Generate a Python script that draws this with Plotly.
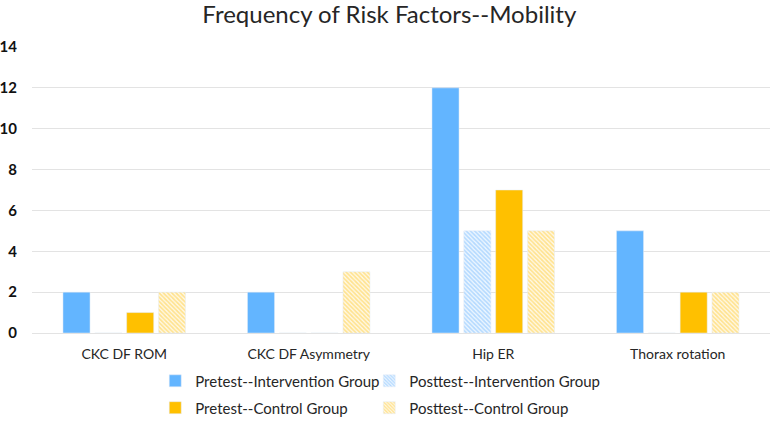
import plotly.graph_objects as go

categories = ["CKC DF ROM", "CKC DF Asymmetry", "Hip ER", "Thorax rotation"]
pre_intervention = [2, 2, 12, 5]
post_intervention = [0, 0, 5, 0]
pre_control = [1, 0, 7, 2]
post_control = [2, 3, 5, 2]
y_ticks = [0, 2, 4, 6, 8, 10, 12, 14]

FONT = "Lato"
fig = go.Figure()
fig.add_trace(go.Bar(x=categories, y=pre_intervention, name="Pretest--Intervention Group",
                     marker=dict(color="#63B5FF"), legend="legend"))
fig.add_trace(go.Bar(x=categories, y=post_intervention, name="Posttest--Intervention Group",
                     marker=dict(color="#EEF7FF", pattern=dict(shape="\\", fgcolor="#78BCFF", size=3, solidity=0.55)),
                     legend="legend2"))
fig.add_trace(go.Bar(x=categories, y=pre_control, name="Pretest--Control Group",
                     marker=dict(color="#FFC000"), legend="legend3"))
fig.add_trace(go.Bar(x=categories, y=post_control, name="Posttest--Control Group",
                     marker=dict(color="#FFF8E6", pattern=dict(shape="\\", fgcolor="#FFCC33", size=3, solidity=0.55)),
                     legend="legend4"))

legend_common = dict(orientation="v", xanchor="left", yanchor="middle", itemwidth=30,
                     font=dict(family=FONT, size=15, color="#262626"),
                     bgcolor="rgba(0,0,0,0)")

col1, col2 = 0.167, 0.457
row1, row2 = -0.168, -0.262

fig.update_layout(
    width=771, height=431,
    margin=dict(l=32, r=1, t=47, b=98),
    paper_bgcolor="white", plot_bgcolor="white",
    title=dict(text="Frequency of Risk Factors--Mobility", x=0.505, xanchor="center", y=0.967, yanchor="middle",
               font=dict(family=FONT, size=24, color="#262626")),
    barmode="group", bargap=0.31, bargroupgap=0.15,
    font=dict(family=FONT, color="#262626"),
    xaxis=dict(showgrid=False, showline=False, ticks="", ticklabelstandoff=11,
               tickfont=dict(family=FONT, size=14, color="#262626")),
    yaxis=dict(range=[0, 14], tickvals=y_ticks, showgrid=True, gridcolor="#E3E3E3", gridwidth=1,
               zeroline=True, zerolinecolor="#E3E3E3", zerolinewidth=1, showline=False, ticks="",
               ticklabelstandoff=14,
               tickfont=dict(family=FONT, size=15, color="#111111", weight="bold")),
    legend=dict(x=col1, y=row1, **legend_common),
    legend2=dict(x=col2, y=row1, **legend_common),
    legend3=dict(x=col1, y=row2, **legend_common),
    legend4=dict(x=col2, y=row2, **legend_common),
    showlegend=True,
)

fig.write_html("out.html", config={"displayModeBar": False},
               post_script="document.body.style.margin='0';")
